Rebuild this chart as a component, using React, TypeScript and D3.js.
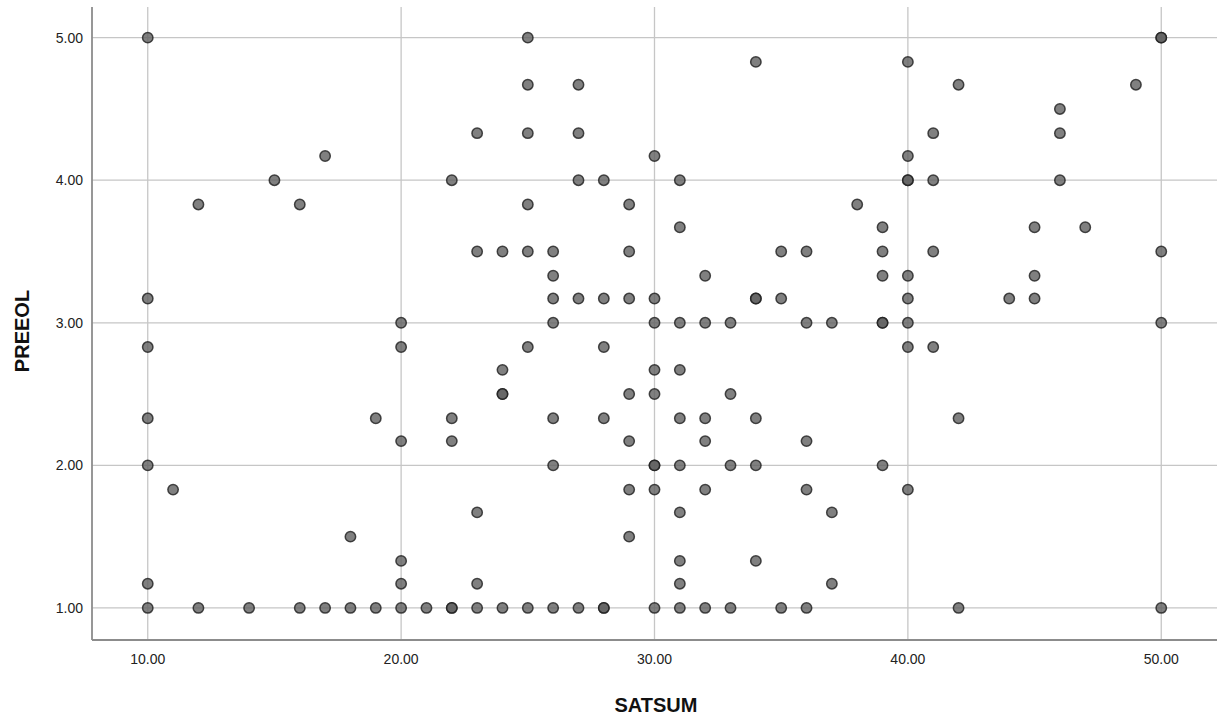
import React from "react";
import * as d3 from "d3";

// SATSUM / PREEOL pairs, one entry per case (repeated pairs overlap and print darker)
const satsum: number[] = [
  10, 10, 10, 10, 10, 10, 10,
  11,
  12, 12,
  14,
  15,
  16, 16,
  17, 17,
  18, 18,
  19, 19,
  20, 20, 20, 20, 20, 20,
  21,
  22, 22, 22, 22, 22,
  23, 23, 23, 23, 23,
  24, 24, 24, 24, 24,
  25, 25, 25, 25, 25, 25, 25,
  26, 26, 26, 26, 26, 26, 26,
  27, 27, 27, 27, 27,
  28, 28, 28, 28, 28, 28,
  29, 29, 29, 29, 29, 29, 29,
  30, 30, 30, 30, 30, 30, 30, 30, 30,
  31, 31, 31, 31, 31, 31, 31, 31, 31, 31,
  32, 32, 32, 32, 32, 32,
  33, 33, 33, 33,
  34, 34, 34, 34, 34, 34,
  35, 35, 35,
  36, 36, 36, 36, 36,
  37, 37, 37,
  38,
  39, 39, 39, 39, 39, 39,
  40, 40, 40, 40, 40, 40, 40, 40, 40,
  41, 41, 41, 41,
  42, 42, 42,
  44,
  45, 45, 45,
  46, 46, 46,
  47,
  49,
  50, 50, 50, 50, 50,
];

const preeol: number[] = [
  5.0, 3.17, 2.83, 2.33, 2.0, 1.17, 1.0,
  1.83,
  3.83, 1.0,
  1.0,
  4.0,
  3.83, 1.0,
  4.17, 1.0,
  1.5, 1.0,
  2.33, 1.0,
  3.0, 2.83, 2.17, 1.33, 1.17, 1.0,
  1.0,
  4.0, 2.33, 2.17, 1.0, 1.0,
  4.33, 3.5, 1.67, 1.17, 1.0,
  3.5, 2.67, 2.5, 2.5, 1.0,
  5.0, 4.67, 4.33, 3.83, 3.5, 2.83, 1.0,
  3.5, 3.33, 3.17, 3.0, 2.33, 2.0, 1.0,
  4.67, 4.33, 4.0, 3.17, 1.0,
  4.0, 3.17, 2.83, 2.33, 1.0, 1.0,
  3.83, 3.5, 3.17, 2.5, 2.17, 1.83, 1.5,
  4.17, 3.17, 3.0, 2.67, 2.5, 2.0, 2.0, 1.83, 1.0,
  4.0, 3.67, 3.0, 2.67, 2.33, 2.0, 1.67, 1.33, 1.17, 1.0,
  3.33, 3.0, 2.33, 2.17, 1.83, 1.0,
  3.0, 2.5, 2.0, 1.0,
  4.83, 3.17, 3.17, 2.33, 2.0, 1.33,
  3.5, 3.17, 1.0,
  3.5, 3.0, 2.17, 1.83, 1.0,
  3.0, 1.67, 1.17,
  3.83,
  3.67, 3.5, 3.33, 3.0, 3.0, 2.0,
  4.83, 4.17, 4.0, 4.0, 3.33, 3.17, 3.0, 2.83, 1.83,
  4.33, 4.0, 3.5, 2.83,
  4.67, 2.33, 1.0,
  3.17,
  3.67, 3.33, 3.17,
  4.5, 4.33, 4.0,
  3.67,
  4.67,
  5.0, 5.0, 3.5, 3.0, 1.0,
];

const xTicks: number[] = [10, 20, 30, 40, 50];
const yTicks: number[] = [1, 2, 3, 4, 5];
const xTitle = "SATSUM";
const yTitle = "PREEOL";

const W = 1221;
const H = 719;
const left = 92;
const right = 1217;
const top = 7;
const bottom = 640;

const FONT = "'Liberation Sans', Arial, Helvetica, sans-serif";

export default function App() {
  const x = d3.scaleLinear().domain([7.8, 52.2]).range([left, right]);
  const y = d3.scaleLinear().domain([0.775, 5.215]).range([bottom, top]);
  const fmt = d3.format(".2f");

  const points = satsum.map((s, i) => ({ s, p: preeol[i] }));

  return (
    <svg
      width={W}
      height={H}
      style={{ position: "absolute", left: 0, top: 0, background: "#fff" }}
      fontFamily={FONT}
    >
      <rect x={0} y={0} width={W} height={H} fill="#fff" />

      {/* grid */}
      <g stroke="#c6c6c6" strokeWidth={1.3}>
        {yTicks.map((t) => (
          <line key={"gy" + t} x1={left} x2={right} y1={y(t)} y2={y(t)} />
        ))}
        {xTicks.map((t) => (
          <line key={"gx" + t} x1={x(t)} x2={x(t)} y1={top} y2={bottom} />
        ))}
      </g>

      {/* axes */}
      <g stroke="#8c8c8c" strokeWidth={1.8}>
        <line x1={left} x2={left} y1={top} y2={bottom} />
        <line x1={left} x2={right} y1={bottom} y2={bottom} />
      </g>

      {/* tick labels */}
      <g fontSize={14} fill="#222">
        {yTicks.map((t) => (
          <text key={"ly" + t} x={83} y={y(t)} dy="0.36em" textAnchor="end">
            {fmt(t)}
          </text>
        ))}
        {xTicks.map((t) => (
          <text key={"lx" + t} x={x(t)} y={664} textAnchor="middle">
            {fmt(t)}
          </text>
        ))}
      </g>

      {/* points */}
      <g>
        {points.map((d, i) => (
          <circle
            key={i}
            cx={x(d.s)}
            cy={y(d.p)}
            r={5.2}
            fill="#606060"
            fillOpacity={0.8}
            stroke="#1e1e1e"
            strokeOpacity={0.8}
            strokeWidth={1.5}
          />
        ))}
      </g>

      {/* axis titles */}
      <text
        x={656}
        y={712}
        textAnchor="middle"
        fontSize={20}
        fontWeight="bold"
        fill="#111"
      >
        {xTitle}
      </text>
      <text
        transform={`translate(29, ${331}) rotate(-90)`}
        textAnchor="middle"
        fontSize={20}
        fontWeight="bold"
        fill="#111"
      >
        {yTitle}
      </text>
    </svg>
  );
}
